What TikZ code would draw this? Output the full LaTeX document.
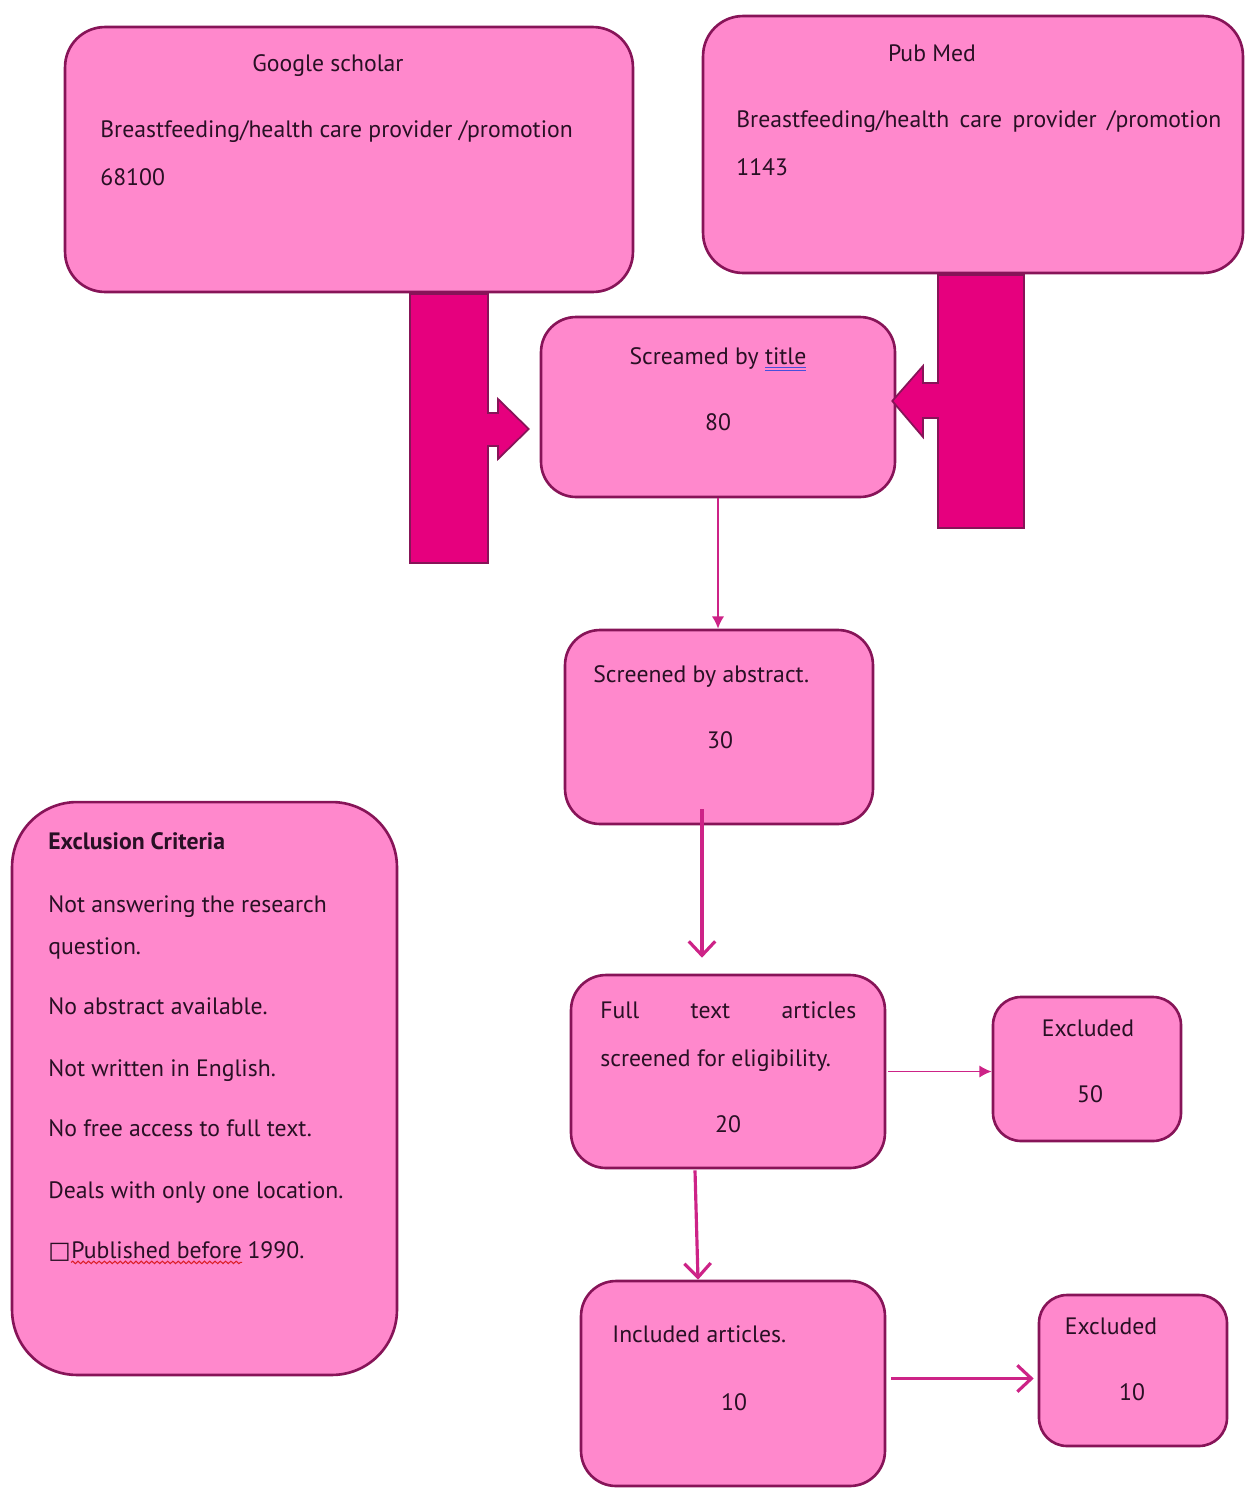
\documentclass[tikz,border=0pt]{standalone}
\usepackage{fontspec}
\setmainfont{PT Sans}
\newfontfamily\symfont{DejaVu Sans}
\usepackage{tikz}
\usetikzlibrary{arrows.meta, calc, decorations.pathmorphing}
\definecolor{boxPink}{RGB}{255, 136, 204}
\definecolor{boxEdge}{RGB}{135, 20, 88}
\definecolor{barPink}{RGB}{230, 0, 126}
\definecolor{lineMag}{RGB}{205, 35, 135}
\definecolor{textDark}{RGB}{40, 16, 36}
\definecolor{markBlue}{RGB}{70, 80, 220}
\definecolor{markRed}{RGB}{220, 30, 40}

\begin{document}
\begin{tikzpicture}[x=0.02cm, y=-0.02cm,
    pinkbox/.style={draw=boxEdge, fill=boxPink, line width=1.5pt, rounded corners=0.8cm, inner sep=0pt},
    txt/.style={text=textDark, font=\fontsize{13.5}{16}\selectfont, inner sep=0pt},
    bar/.style={draw=boxEdge, fill=barPink, line width=1pt},
    thinlink/.style={draw=lineMag, line width=1pt, -{Latex[length=7pt, width=7pt]}},
    boldlink/.style={draw=lineMag, line width=1.8pt, -{Straight Barb[length=8pt, width=15pt]}}]
      \useasboundingbox (0,0) rectangle (1245,1488);

      % Search sources
      \node[pinkbox, minimum width=11.36cm, minimum height=5.3cm] (google) at (349,159.5) {};
      \node[pinkbox, minimum width=10.8cm, minimum height=5.14cm] (pubmed) at (973,144.5) {};
      \node[txt, anchor=mid] (gtitle) at (328,67) {Google scholar};
      \node[txt, anchor=mid west] (gterms) at (100,133) {Breastfeeding/health care provider /promotion};
      \node[txt, anchor=mid west] (gcount) at (100,181) {68100};
      \node[txt, anchor=mid] (ptitle) at (932,57) {Pub Med};
      \node[txt, anchor=mid west] (pterms) at (736,123) {\makebox[9.7cm][s]{Breastfeeding/health care provider /promotion}};
      \node[txt, anchor=mid west] (pcount) at (736,171) {1143};

      % Screening steps
      \node[pinkbox, rounded corners=0.7cm, minimum width=7.08cm, minimum height=3.6cm] (screamed) at (718,407) {};
      \node[txt, anchor=mid] (stitle) at (718,360) {Screamed by {\color{markBlue}\underline{\underline{\textcolor{textDark}{title}}}}};
      \node[txt, anchor=mid] (scount) at (718,426) {80};

      \node[pinkbox, rounded corners=0.7cm, minimum width=6.16cm, minimum height=3.88cm] (abstract) at (719,727) {};
      \node[txt, anchor=mid west] (atitle) at (593,678) {Screened by abstract.};
      \node[txt, anchor=mid] (acount) at (720,744) {30};

      \node[pinkbox, rounded corners=0.7cm, minimum width=6.28cm, minimum height=3.86cm] (full) at (728,1071.5) {};
      \node[txt, anchor=mid west] (ftitle) at (600,1014) {\makebox[5.12cm][s]{Full\hfill text\hfill articles}};
      \node[txt, anchor=mid west] (ftitleb) at (600,1062) {screened for eligibility.};
      \node[txt, anchor=mid] (fcount) at (728,1128) {20};

      \node[pinkbox, rounded corners=0.56cm, minimum width=3.76cm, minimum height=2.88cm] (excla) at (1087,1069) {};
      \node[txt, anchor=mid] (eatitle) at (1088,1032) {Excluded};
      \node[txt, anchor=mid] (eacount) at (1090,1098) {50};

      \node[pinkbox, rounded corners=0.7cm, minimum width=6.08cm, minimum height=4.1cm] (included) at (733,1383.5) {};
      \node[txt, anchor=mid west] (ititle) at (612,1338) {Included articles.};
      \node[txt, anchor=mid] (icount) at (734,1406) {10};

      \node[pinkbox, rounded corners=0.56cm, minimum width=3.76cm, minimum height=3.02cm] (exclb) at (1133,1370.5) {};
      \node[txt, anchor=mid] (ebtitle) at (1111,1330) {Excluded};
      \node[txt, anchor=mid] (ebcount) at (1132,1396) {10};

      % Exclusion criteria
      \node[pinkbox, rounded corners=1.3cm, minimum width=7.7cm, minimum height=11.46cm] (criteria) at (204.5,1088.5) {};
      \node[txt, anchor=mid west, font=\fontsize{13.5}{16}\selectfont\bfseries] (ctitle) at (48,845) {Exclusion Criteria};
      \node[txt, anchor=mid west] (c1) at (48,908) {Not answering the research};
      \node[txt, anchor=mid west] (c1b) at (48,950) {question.};
      \node[txt, anchor=mid west] (c2) at (48,1010) {No abstract available.};
      \node[txt, anchor=mid west] (c3) at (48,1072) {Not written in English.};
      \node[txt, anchor=mid west] (c4) at (48,1132) {No free access to full text.};
      \node[txt, anchor=mid west] (c5) at (48,1194) {Deals with only one location.};
      \node[txt, anchor=mid west] (c6) at (48,1254) {\symfont □};
      \node[txt, anchor=base west] (c6word) at (c6.base east) {Published before};
      \node[txt, anchor=base west] (c6year) at ($(c6word.base east)+(5,0)$) {1990.};
      \draw[markRed, line width=0.6pt, decorate, decoration={snake, amplitude=0.7pt, segment length=3pt}]
        ($(c6word.base west)+(0,4)$) -- ($(c6word.base east)+(0,4)$);

      % Block arrows into the title screen
      \coordinate (ltip) at ($(screamed.west)+(-11,22)$);
      \draw[bar] (410,294) -- (488,294) -- (488,413) -- (498,413) -- (498,399) -- (ltip)
        -- (498,459) -- (498,446) -- (488,446) -- (488,563) -- (410,563) -- cycle;
      \coordinate (rtip) at ($(screamed.east)+(-4,-6)$);
      \draw[bar] (938,275) -- (1024,275) -- (1024,528) -- (938,528) -- (938,418) -- (923,418)
        -- (923,437) -- (rtip) -- (923,366) -- (923,383) -- (938,383) -- cycle;

      % Links
      \draw[thinlink] (screamed.south) -- (screamed.south |- abstract.north);
      \coordinate (fullin) at ($(full.north)+(-26,-16)$);
      \draw[boldlink] ($(abstract.south)+(-17,-16)$) -- (fullin);
      \draw[thinlink] ($(full.east)+(2,0)$) -- (full.east -| excla.west);
      \draw[boldlink] ($(full.south)+(-33,1)$) -- ($(included.north)+(-35,0)$);
      \coordinate (exclbin) at ($(exclb.west)+(-4,8)$);
      \draw[boldlink] ($(included.east)+(5,-5)$) -- (exclbin);
    \end{tikzpicture}
\end{document}
